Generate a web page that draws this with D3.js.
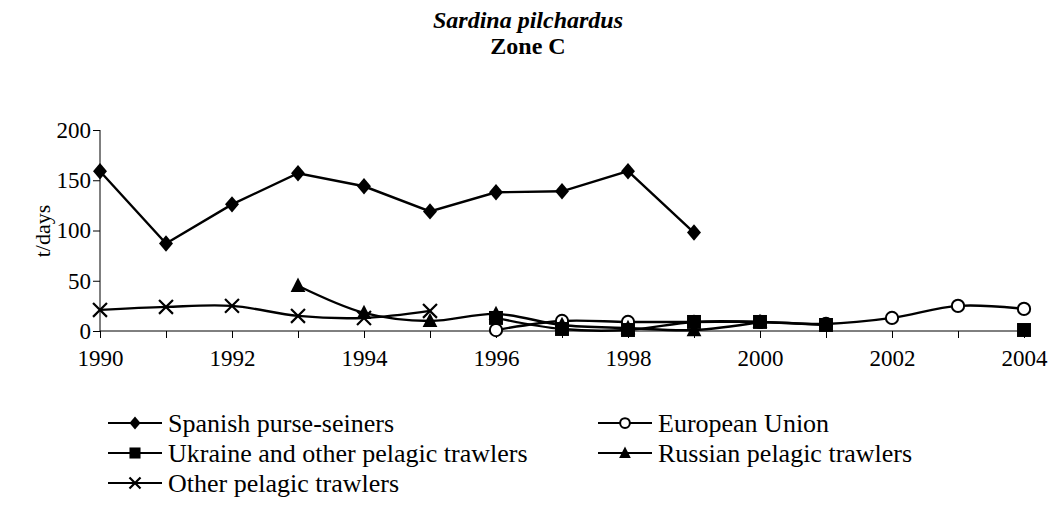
<!DOCTYPE html>
<html><head><meta charset="utf-8">
<script src="https://cdn.jsdelivr.net/npm/d3@7"></script>
<style>body{margin:0;background:#fff}svg{display:block}text{font-family:"Liberation Serif","Times New Roman",serif;fill:#000}</style>
</head><body><svg id="c" width="1056" height="508"></svg>
<script>
const years = [1990,1991,1992,1993,1994,1995,1996,1997,1998,1999,2000,2001,2002,2003,2004];
const spanish = [159,87,126,157,144,119,138,139,159,98,null,null,null,null,null];
const eu      = [null,null,null,null,null,null,1,10,9,9,9,7,13,25,22];
const ukraine = [null,null,null,null,null,null,13,2,1,9,9,6,null,null,1];
const russian = [null,null,null,45,18,10,17,6,3,1,9,null,null,null,null];
const other   = [21,24,25,15,13,20,null,null,null,null,null,null,null,null,null];
const yTicks = [0,50,100,150,200];
const xLabels = [1990,1992,1994,1996,1998,2000,2002,2004];

const series = [
  {name:"Spanish purse-seiners", values:spanish, marker:"diamond", smooth:false},
  {name:"European Union", values:eu, marker:"circle", smooth:true},
  {name:"Ukraine and other pelagic trawlers", values:ukraine, marker:"square", smooth:true},
  {name:"Russian pelagic trawlers", values:russian, marker:"triangle", smooth:true},
  {name:"Other pelagic trawlers", values:other, marker:"x", smooth:true}
];

const svg = d3.select("#c");
const x = d3.scaleLinear().domain([1990,2004]).range([100,1024]);
const y = d3.scaleLinear().domain([0,200]).range([331,130]);

svg.append("text").attr("x",528).attr("y",28).attr("text-anchor","middle")
  .style("font-size","24px").style("font-weight","bold").style("font-style","italic").text("Sardina pilchardus");
svg.append("text").attr("x",528).attr("y",54).attr("text-anchor","middle")
  .style("font-size","24px").style("font-weight","bold").text("Zone C");

const ax = svg.append("g").attr("transform","translate(0,331)")
  .call(d3.axisBottom(x).tickValues(years).tickSize(7).tickFormat(d => xLabels.includes(d) ? d : ""));
const ay = svg.append("g").attr("transform","translate(100,0)")
  .call(d3.axisLeft(y).tickValues(yTicks).tickSize(7).tickFormat(d3.format("d")));
[ax,ay].forEach(g=>{
  g.select(".domain").attr("stroke","#000").attr("stroke-width",1);
  g.selectAll(".tick line").attr("stroke","#000");
  g.selectAll(".tick text").style("font-size","23px").style("font-family","Liberation Serif, serif").attr("fill","#000");
});
ax.select(".domain").attr("d","M100,0H1024");
ay.select(".domain").attr("d","M0,130V331");
ax.selectAll(".tick text").attr("y",27).attr("dy","0.35em");
ay.selectAll(".tick text").attr("x",-9);

svg.append("text").attr("transform","translate(42,231) rotate(-90)").attr("text-anchor","middle").attr("dy","0.35em")
  .style("font-size","22px").text("t/days");

function marker(g, type, cx, cy, s){
  if(type==="diamond"){
    g.append("path").attr("d",`M${cx},${cy-s}L${cx+s*0.85},${cy}L${cx},${cy+s}L${cx-s*0.85},${cy}Z`).attr("fill","#000");
  } else if(type==="square"){
    g.append("rect").attr("x",cx-s*0.85).attr("y",cy-s*0.85).attr("width",s*1.7).attr("height",s*1.7).attr("fill","#000");
  } else if(type==="triangle"){
    g.append("path").attr("d",`M${cx},${cy-s}L${cx+s*0.9},${cy+s*0.75}L${cx-s*0.9},${cy+s*0.75}Z`).attr("fill","#000");
  } else if(type==="circle"){
    g.append("circle").attr("cx",cx).attr("cy",cy).attr("r",s*0.75).attr("fill","#fff").attr("stroke","#000").attr("stroke-width",2);
  } else if(type==="x"){
    const a=s*0.85;
    g.append("path").attr("d",`M${cx-a},${cy-a}L${cx+a},${cy+a}M${cx+a},${cy-a}L${cx-a},${cy+a}`).attr("stroke","#000").attr("stroke-width",2.2).attr("fill","none");
  }
}

const plot = svg.append("g");
series.forEach(s=>{
  const pts = years.map((yr,i)=>({yr, v:s.values[i]}));
  const line = d3.line().defined(d=>d.v!==null).x(d=>x(d.yr)).y(d=>y(d.v))
    .curve(s.smooth ? d3.curveCardinal.tension(0) : d3.curveLinear);
  plot.append("path").datum(pts).attr("d",line).attr("fill","none").attr("stroke","#000").attr("stroke-width",2.4);
});
series.forEach(s=>{
  const g = plot.append("g");
  years.forEach((yr,i)=>{ if(s.values[i]!==null) marker(g, s.marker, x(yr), y(s.values[i]), 8.2); });
});

const legendPos = [[108,423],[598,423],[108,453],[598,453],[108,483]];
series.forEach((s,i)=>{
  const [lx,ly] = legendPos[i];
  const g = svg.append("g");
  g.append("line").attr("x1",lx).attr("x2",lx+54).attr("y1",ly).attr("y2",ly).attr("stroke","#000").attr("stroke-width",2.2);
  marker(g, s.marker, lx+27, ly, 6.5);
  g.append("text").attr("x",lx+60).attr("y",ly).attr("dy","0.33em").style("font-size","26px").text(s.name);
});
</script></body></html>
